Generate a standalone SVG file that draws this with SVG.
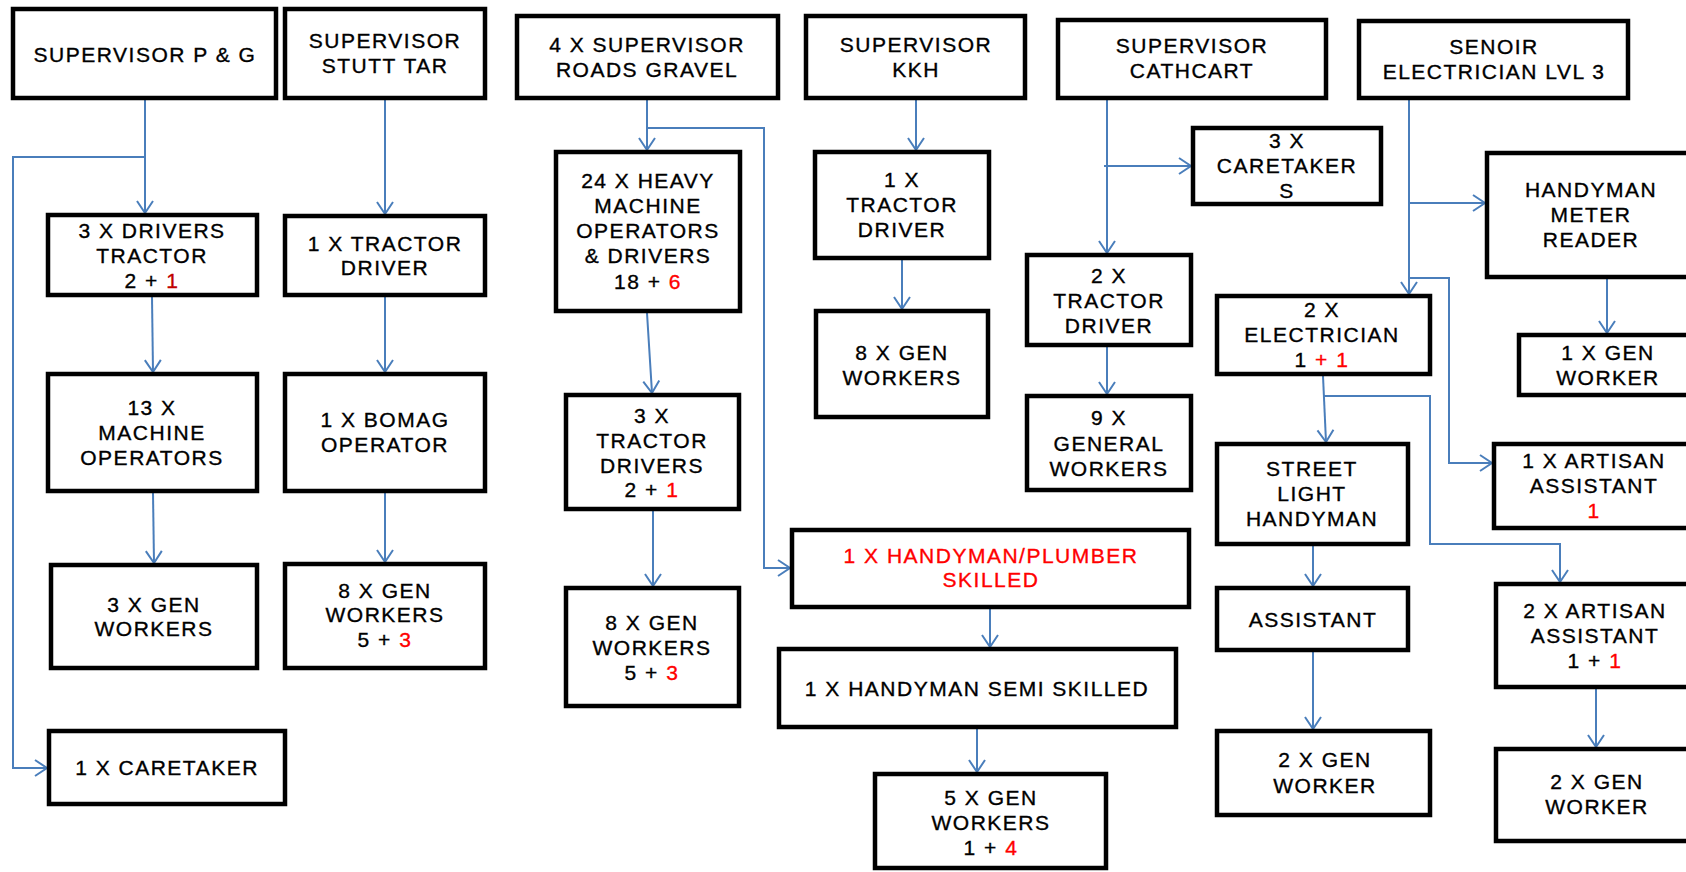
<svg xmlns="http://www.w3.org/2000/svg" width="1686" height="872" viewBox="0 0 1686 872">
  <defs>
    <marker id="arrow" markerUnits="userSpaceOnUse" markerWidth="20" markerHeight="20" viewBox="-14 -10 16 20" refX="0" refY="0" orient="auto">
      <path d="M-12,-8 L0,0 L-12,8" fill="none" stroke="#4A7EBB" stroke-width="2"/>
    </marker>
  </defs>
  <style>
    .box { fill: #FFFFFF; stroke: #000000; stroke-width: 4.5; }
    .lbl { font-family: "Liberation Sans", Arial, sans-serif; font-size: 21px; letter-spacing: 1.5px; fill: #000000; stroke: #000000; stroke-width: 0.35px; text-anchor: middle; }
    .red { fill: #FF0000; stroke: #FF0000; }
    .dred { fill: #C00000; stroke: #C00000; }
    .link { fill: none; stroke: #4A7EBB; stroke-width: 2; marker-end: url(#arrow); }
  </style>
  <rect width="1686" height="872" fill="#FFFFFF"/>

  <!-- connectors -->
  <g id="connectors">
    <path class="link" d="M145,100 V213"/>
    <path class="link" d="M145,157 H13 V768 H47"/>
    <path class="link" d="M385,100 V214"/>
    <path class="link" d="M152,297 L153,372"/>
    <path class="link" d="M385,297 V372"/>
    <path class="link" d="M153,493 L154,563"/>
    <path class="link" d="M385,493 V562"/>

    <path class="link" d="M647,100 V150"/>
    <path class="link" d="M647,128 H764 V568 H790"/>
    <path class="link" d="M647,313 L652,393"/>
    <path class="link" d="M653,511 V586"/>

    <path class="link" d="M916,100 V150"/>
    <path class="link" d="M902,260 V309"/>

    <path class="link" d="M990,609 V647"/>
    <path class="link" d="M977,729 V772"/>

    <path class="link" d="M1107,100 V253"/>
    <path class="link" d="M1104,166 H1191"/>
    <path class="link" d="M1107,347 V394"/>

    <path class="link" d="M1409,100 V294"/>
    <path class="link" d="M1409,203 H1485"/>
    <path class="link" d="M1409,278 H1449 V463 H1492"/>
    <path class="link" d="M1607,279 V333"/>
    <path class="link" d="M1323,376 L1326,442"/>
    <path class="link" d="M1324,396 H1430 V544 H1560 V582"/>
    <path class="link" d="M1313,546 V586"/>
    <path class="link" d="M1313,652 V729"/>
    <path class="link" d="M1596,689 V747"/>
  </g>

  <!-- P & G -->
  <g id="sup-pg">
    <rect class="box" x="13" y="9" width="263" height="89"/>
    <text class="lbl" x="145" y="62">SUPERVISOR P &amp; G</text>
  </g>
  <g id="drivers-tractor">
    <rect class="box" x="48" y="215" width="209" height="80"/>
    <text class="lbl" x="152" y="238">3 X DRIVERS</text>
    <text class="lbl" x="152" y="263">TRACTOR</text>
    <text class="lbl" x="152" y="288">2 + <tspan class="dred">1</tspan></text>
  </g>
  <g id="machine-operators">
    <rect class="box" x="48" y="374" width="209" height="117"/>
    <text class="lbl" x="152" y="415">13 X</text>
    <text class="lbl" x="152" y="440">MACHINE</text>
    <text class="lbl" x="152" y="465">OPERATORS</text>
  </g>
  <g id="gen-workers-3">
    <rect class="box" x="51" y="565" width="206" height="103"/>
    <text class="lbl" x="154" y="612">3 X GEN</text>
    <text class="lbl" x="154" y="636">WORKERS</text>
  </g>
  <g id="caretaker-1">
    <rect class="box" x="49" y="731" width="236" height="73"/>
    <text class="lbl" x="167" y="775">1 X CARETAKER</text>
  </g>

  <!-- Stutt Tar -->
  <g id="sup-stutt">
    <rect class="box" x="285" y="9" width="200" height="89"/>
    <text class="lbl" x="385" y="48">SUPERVISOR</text>
    <text class="lbl" x="385" y="73">STUTT TAR</text>
  </g>
  <g id="tractor-driver-stutt">
    <rect class="box" x="285" y="216" width="200" height="79"/>
    <text class="lbl" x="385" y="251">1 X TRACTOR</text>
    <text class="lbl" x="385" y="275">DRIVER</text>
  </g>
  <g id="bomag-operator">
    <rect class="box" x="285" y="374" width="200" height="117"/>
    <text class="lbl" x="385" y="427">1 X BOMAG</text>
    <text class="lbl" x="385" y="452">OPERATOR</text>
  </g>
  <g id="gen-workers-8-stutt">
    <rect class="box" x="285" y="564" width="200" height="104"/>
    <text class="lbl" x="385" y="598">8 X GEN</text>
    <text class="lbl" x="385" y="622">WORKERS</text>
    <text class="lbl" x="385" y="647">5 + <tspan class="red">3</tspan></text>
  </g>

  <!-- Roads gravel -->
  <g id="sup-roads">
    <rect class="box" x="517" y="16" width="261" height="82"/>
    <text class="lbl" x="647" y="52">4 X SUPERVISOR</text>
    <text class="lbl" x="647" y="77">ROADS GRAVEL</text>
  </g>
  <g id="heavy-machine">
    <rect class="box" x="556" y="152" width="184" height="159"/>
    <text class="lbl" x="648" y="188">24 X HEAVY</text>
    <text class="lbl" x="648" y="213">MACHINE</text>
    <text class="lbl" x="648" y="238">OPERATORS</text>
    <text class="lbl" x="648" y="263">&amp; DRIVERS</text>
    <text class="lbl" x="648" y="289">18 + <tspan class="red">6</tspan></text>
  </g>
  <g id="tractor-drivers-roads">
    <rect class="box" x="566" y="395" width="173" height="114"/>
    <text class="lbl" x="652" y="423">3 X</text>
    <text class="lbl" x="652" y="448">TRACTOR</text>
    <text class="lbl" x="652" y="473">DRIVERS</text>
    <text class="lbl" x="652" y="497">2 + <tspan class="red">1</tspan></text>
  </g>
  <g id="gen-workers-8-roads">
    <rect class="box" x="566" y="588" width="173" height="118"/>
    <text class="lbl" x="652" y="630">8 X GEN</text>
    <text class="lbl" x="652" y="655">WORKERS</text>
    <text class="lbl" x="652" y="680">5 + <tspan class="red">3</tspan></text>
  </g>

  <!-- KKH -->
  <g id="sup-kkh">
    <rect class="box" x="806" y="16" width="219" height="82"/>
    <text class="lbl" x="916" y="52">SUPERVISOR</text>
    <text class="lbl" x="916" y="77">KKH</text>
  </g>
  <g id="tractor-driver-kkh">
    <rect class="box" x="815" y="152" width="174" height="106"/>
    <text class="lbl" x="902" y="187">1 X</text>
    <text class="lbl" x="902" y="212">TRACTOR</text>
    <text class="lbl" x="902" y="237">DRIVER</text>
  </g>
  <g id="gen-workers-8-kkh">
    <rect class="box" x="816" y="311" width="172" height="106"/>
    <text class="lbl" x="902" y="360">8 X GEN</text>
    <text class="lbl" x="902" y="385">WORKERS</text>
  </g>

  <!-- Handyman chain -->
  <g id="handyman-plumber">
    <rect class="box" x="792" y="530" width="397" height="77"/>
    <text class="lbl red" x="991" y="563">1 X HANDYMAN/PLUMBER</text>
    <text class="lbl red" x="991" y="587">SKILLED</text>
  </g>
  <g id="handyman-semi">
    <rect class="box" x="779" y="649" width="397" height="78"/>
    <text class="lbl" x="977" y="696">1 X HANDYMAN SEMI SKILLED</text>
  </g>
  <g id="gen-workers-5">
    <rect class="box" x="875" y="774" width="231" height="94"/>
    <text class="lbl" x="991" y="805">5 X GEN</text>
    <text class="lbl" x="991" y="830">WORKERS</text>
    <text class="lbl" x="991" y="855">1 + <tspan class="red">4</tspan></text>
  </g>

  <!-- Cathcart -->
  <g id="sup-cathcart">
    <rect class="box" x="1058" y="20" width="268" height="78"/>
    <text class="lbl" x="1192" y="53">SUPERVISOR</text>
    <text class="lbl" x="1192" y="78">CATHCART</text>
  </g>
  <g id="caretakers-3">
    <rect class="box" x="1193" y="128" width="188" height="76"/>
    <text class="lbl" x="1287" y="148">3 X</text>
    <text class="lbl" x="1287" y="173">CARETAKER</text>
    <text class="lbl" x="1287" y="198">S</text>
  </g>
  <g id="tractor-driver-cathcart">
    <rect class="box" x="1027" y="255" width="164" height="90"/>
    <text class="lbl" x="1109" y="283">2 X</text>
    <text class="lbl" x="1109" y="308">TRACTOR</text>
    <text class="lbl" x="1109" y="333">DRIVER</text>
  </g>
  <g id="general-workers-9">
    <rect class="box" x="1027" y="396" width="164" height="94"/>
    <text class="lbl" x="1109" y="425">9 X</text>
    <text class="lbl" x="1109" y="451">GENERAL</text>
    <text class="lbl" x="1109" y="476">WORKERS</text>
  </g>

  <!-- Senior electrician -->
  <g id="senior-electrician">
    <rect class="box" x="1359" y="21" width="269" height="77"/>
    <text class="lbl" x="1494" y="54">SENOIR</text>
    <text class="lbl" x="1494" y="79">ELECTRICIAN LVL 3</text>
  </g>
  <g id="handyman-meter-reader">
    <rect class="box" x="1487" y="153" width="209" height="124"/>
    <text class="lbl" x="1591" y="197">HANDYMAN</text>
    <text class="lbl" x="1591" y="222">METER</text>
    <text class="lbl" x="1591" y="247">READER</text>
  </g>
  <g id="gen-worker-1">
    <rect class="box" x="1519" y="335" width="177" height="60"/>
    <text class="lbl" x="1608" y="360">1 X GEN</text>
    <text class="lbl" x="1608" y="385">WORKER</text>
  </g>
  <g id="electrician-2">
    <rect class="box" x="1217" y="296" width="213" height="78"/>
    <text class="lbl" x="1322" y="317">2 X</text>
    <text class="lbl" x="1322" y="342">ELECTRICIAN</text>
    <text class="lbl" x="1322" y="367">1 <tspan class="red">+ 1</tspan></text>
  </g>
  <g id="artisan-assistant-1">
    <rect class="box" x="1494" y="444" width="204" height="84"/>
    <text class="lbl" x="1594" y="468">1 X ARTISAN</text>
    <text class="lbl" x="1594" y="493">ASSISTANT</text>
    <text class="lbl red" x="1594" y="518">1</text>
  </g>
  <g id="street-light-handyman">
    <rect class="box" x="1217" y="444" width="191" height="100"/>
    <text class="lbl" x="1312" y="476">STREET</text>
    <text class="lbl" x="1312" y="501">LIGHT</text>
    <text class="lbl" x="1312" y="526">HANDYMAN</text>
  </g>
  <g id="assistant">
    <rect class="box" x="1217" y="588" width="191" height="62"/>
    <text class="lbl" x="1313" y="627">ASSISTANT</text>
  </g>
  <g id="gen-worker-2-street">
    <rect class="box" x="1217" y="731" width="213" height="84"/>
    <text class="lbl" x="1325" y="767">2 X GEN</text>
    <text class="lbl" x="1325" y="793">WORKER</text>
  </g>
  <g id="artisan-assistant-2">
    <rect class="box" x="1496" y="584" width="202" height="103"/>
    <text class="lbl" x="1595" y="618">2 X ARTISAN</text>
    <text class="lbl" x="1595" y="643">ASSISTANT</text>
    <text class="lbl" x="1595" y="668">1 + <tspan class="red">1</tspan></text>
  </g>
  <g id="gen-worker-2-artisan">
    <rect class="box" x="1496" y="749" width="202" height="92"/>
    <text class="lbl" x="1597" y="789">2 X GEN</text>
    <text class="lbl" x="1597" y="814">WORKER</text>
  </g>
</svg>
